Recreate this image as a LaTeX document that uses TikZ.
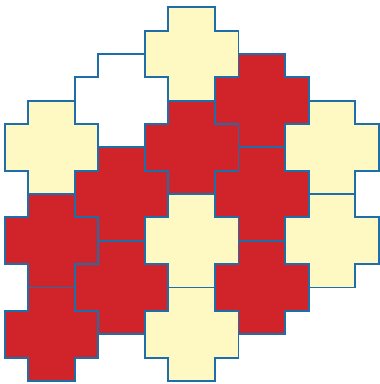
\documentclass[tikz,border=0pt]{standalone}
\definecolor{edgeblue}{HTML}{1E6EAA}
\definecolor{crossred}{HTML}{D0232A}
\definecolor{crossyellow}{HTML}{FEF9C3}
\tikzset{
  tile/.style={draw=edgeblue, line width=1.2pt, line join=miter},
  pics/plus/.style={code={
    \path[pic actions] (1,0) -- (3,0) -- (3,-1) -- (4,-1) -- (4,-3) -- (3,-3) -- (3,-4)
      -- (1,-4) -- (1,-3) -- (0,-3) -- (0,-1) -- (1,-1) -- cycle;
  }}
}
\begin{document}
\begin{tikzpicture}[x=0.5cm,y=0.5cm]
\useasboundingbox (-0.214,-16.133) rectangle (16.06,0.313);
\foreach \c/\r in {6/0, 0/4, 12/4, 6/8, 12/8, 6/12}
  \pic[tile, fill=crossyellow] at (\c,-\r) {plus};
\foreach \c/\r in {3/2}
  \pic[tile, fill=white] at (\c,-\r) {plus};
\foreach \c/\r in {9/2, 6/4, 3/6, 9/6, 0/8, 3/10, 9/10, 0/12}
  \pic[tile, fill=crossred] at (\c,-\r) {plus};
\end{tikzpicture}
\end{document}
